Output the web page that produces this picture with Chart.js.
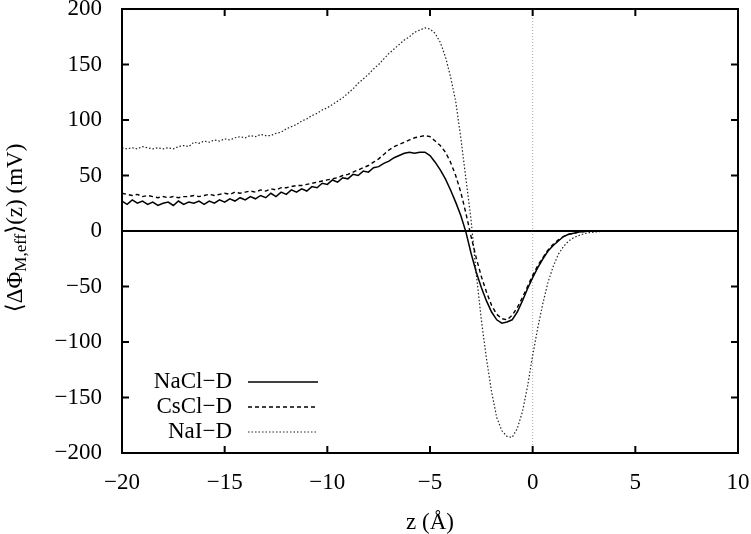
<!DOCTYPE html>
<html lang="en">
<head>
  <meta charset="UTF-8">
  <title>Effective potential profile</title>
  <style>
    body { margin: 0; padding: 0; background: #fff; }
    #wrap { width: 751px; height: 534px; }
  </style>
  <script src="https://cdn.jsdelivr.net/npm/chart.js"></script>
</head>
<body>
  <div id="wrap"><canvas id="potChart" width="751" height="534"></canvas></div>

  <script>
    // z grid: -20 .. 3.5 in steps of 0.25 (Å)
    const zStart = -20;
    const zStep = 0.25;

    const naclD = [
      27, 24, 28, 25, 27, 24, 26, 23, 25, 26, 23, 27, 24, 26, 25, 27, 24, 27, 25, 28, 26,
      29, 27, 30, 28, 31, 29, 32, 30, 34, 31, 35, 33, 37, 35, 38, 36, 40, 39, 43, 42,
      46, 44, 48, 47, 51, 50, 54, 53, 57, 58, 61, 63, 66, 68, 70, 71, 70, 71, 71, 68,
      62, 55, 47, 37, 26, 14, -1, -20, -37, -51, -63, -73, -80, -83, -82, -80, -73, -63, -52, -42,
      -33, -25, -18, -13, -9, -5, -3, -2, -1, -0.5, 0, 0, 0, 0
    ];

    const csclD = [
      34, 33, 32, 33, 31, 32, 31, 30, 31, 30, 31, 30, 31, 31, 32, 31, 32, 33, 32, 33, 34,
      33, 35, 34, 35, 36, 35, 37, 36, 38, 37, 39, 39, 40, 41, 41, 42, 43, 44, 45, 46,
      47, 48, 50, 51, 53, 55, 57, 59, 62, 65, 69, 73, 76, 78, 80, 82, 84, 85, 86, 85,
      81, 77, 71, 62, 50, 35, 16, -5, -24, -41, -55, -67, -75, -79, -80, -76, -69, -60, -50, -40,
      -31, -24, -17, -12, -8, -5, -3, -2, -1, -0.5, 0, 0, 0, 0
    ];

    const naiD = [
      75, 74, 75, 74, 76, 75, 74, 75, 74, 75, 74, 76, 77, 76, 80, 79, 81, 80, 82, 81, 83,
      82, 84, 85, 84, 86, 85, 87, 86, 86, 88, 89, 92, 94, 96, 99, 101, 104, 106, 109, 111,
      114, 117, 120, 124, 128, 133, 137, 141, 146, 150, 155, 160, 164, 168, 172, 175, 179, 181, 183, 182,
      178, 170, 157, 139, 117, 84, 47, 10, -38, -80, -115, -145, -168, -180, -185, -186, -178, -163, -140, -112,
      -87, -65, -46, -32, -21, -14, -9, -6, -4, -2.5, -1.5, -1, -0.5, 0
    ];

    const seriesNames = ['NaCl\u2212D', 'CsCl\u2212D', 'NaI\u2212D'];

    const zValues = naclD.map((_, i) => zStart + i * zStep);
    const toPoints = arr => arr.map((v, i) => ({ x: zValues[i], y: v }));

    const serif = "'Liberation Serif', 'DejaVu Serif', serif";
    Chart.defaults.font.family = serif;
    Chart.defaults.color = '#000';

    const minusLabel = v => (v < 0 ? '\u2212' + Math.abs(v) : String(v));

    // frame, inward ticks, zero lines, legend and y title
    const framePlugin = {
      id: 'frame',
      beforeDatasetsDraw(chart) {
        const { ctx, chartArea: a, scales } = chart;
        const x0 = scales.x.getPixelForValue(0);
        ctx.save();
        ctx.strokeStyle = '#aaa';
        ctx.lineWidth = 1;
        ctx.setLineDash([1, 2]);
        ctx.beginPath();
        ctx.moveTo(x0, a.top);
        ctx.lineTo(x0, a.bottom);
        ctx.stroke();
        ctx.restore();
      },
      afterDatasetsDraw(chart) {
        const { ctx, chartArea: a, scales } = chart;
        const y0 = scales.y.getPixelForValue(0);
        ctx.save();
        ctx.strokeStyle = '#000';
        ctx.lineWidth = 2;
        ctx.beginPath();
        ctx.moveTo(a.left, y0);
        ctx.lineTo(a.right, y0);
        ctx.stroke();

        ctx.lineWidth = 2;
        ctx.strokeRect(a.left, a.top, a.right - a.left, a.bottom - a.top);

        const tl = 7;
        ctx.beginPath();
        scales.x.ticks.forEach(t => {
          const px = scales.x.getPixelForValue(t.value);
          ctx.moveTo(px, a.bottom); ctx.lineTo(px, a.bottom - tl);
          ctx.moveTo(px, a.top); ctx.lineTo(px, a.top + tl);
        });
        scales.y.ticks.forEach(t => {
          const py = scales.y.getPixelForValue(t.value);
          ctx.moveTo(a.left, py); ctx.lineTo(a.left + tl, py);
          ctx.moveTo(a.right, py); ctx.lineTo(a.right - tl, py);
        });
        ctx.stroke();

        // legend, text right-aligned with the line sample to its right
        ctx.font = '23px ' + serif;
        ctx.fillStyle = '#000';
        ctx.textAlign = 'right';
        ctx.textBaseline = 'middle';
        const rows = [382, 407, 432];
        chart.data.datasets.forEach((ds, i) => {
          ctx.fillText(ds.label, 232, rows[i]);
          ctx.save();
          ctx.strokeStyle = ds.borderColor;
          ctx.lineWidth = ds.borderWidth;
          ctx.setLineDash(ds.borderDash || []);
          ctx.beginPath();
          ctx.moveTo(248, rows[i]);
          ctx.lineTo(318, rows[i]);
          ctx.stroke();
          ctx.restore();
        });

        // y axis title with subscript
        ctx.translate(16, 228);
        ctx.rotate(-Math.PI / 2);
        ctx.textAlign = 'left';
        ctx.textBaseline = 'middle';
        const parts = [
          { t: '\u27E8\u0394\u03A6', size: 23, dy: 0 },
          { t: 'M,eff', size: 17, dy: 6 },
          { t: '\u27E9(z) (mV)', size: 23, dy: 0 }
        ];
        let total = 0;
        parts.forEach(p => { ctx.font = p.size + 'px ' + serif; total += ctx.measureText(p.t).width; });
        let cx = -total / 2;
        parts.forEach(p => {
          ctx.font = p.size + 'px ' + serif;
          ctx.fillText(p.t, cx, p.dy);
          cx += ctx.measureText(p.t).width;
        });
        ctx.restore();
      }
    };

    new Chart(document.getElementById('potChart'), {
      type: 'line',
      data: {
        datasets: [
          { label: seriesNames[0], data: toPoints(naclD), borderColor: '#000', borderWidth: 1.5, borderDash: [] },
          { label: seriesNames[1], data: toPoints(csclD), borderColor: '#000', borderWidth: 1.4, borderDash: [4, 3] },
          { label: seriesNames[2], data: toPoints(naiD), borderColor: '#222', borderWidth: 1.2, borderDash: [1.5, 2] }
        ]
      },
      options: {
        responsive: false,
        animation: false,
        layout: { padding: { top: 9, right: 13, left: 0, bottom: 0 } },
        elements: { point: { radius: 0 }, line: { tension: 0, fill: false } },
        plugins: { legend: { display: false }, tooltip: { enabled: false } },
        scales: {
          x: {
            type: 'linear',
            min: -20, max: 10,
            grid: { display: false, drawTicks: false },
            border: { display: false },
            ticks: { stepSize: 5, padding: 16, font: { size: 23 }, callback: minusLabel, maxRotation: 0 },
            title: { display: true, text: 'z (\u00C5)', font: { size: 23, lineHeight: 1 }, padding: 0 },
            afterFit: s => { s.height = 81; s.paddingLeft = 0; s.paddingRight = 0; }
          },
          y: {
            min: -200, max: 200,
            grid: { display: false, drawTicks: false },
            border: { display: false },
            ticks: { stepSize: 50, padding: 20, font: { size: 23 }, callback: minusLabel },
            afterFit: s => { s.width = 122; s.paddingTop = 0; s.paddingBottom = 0; }
          }
        }
      },
      plugins: [framePlugin]
    });
  </script>
</body>
</html>
